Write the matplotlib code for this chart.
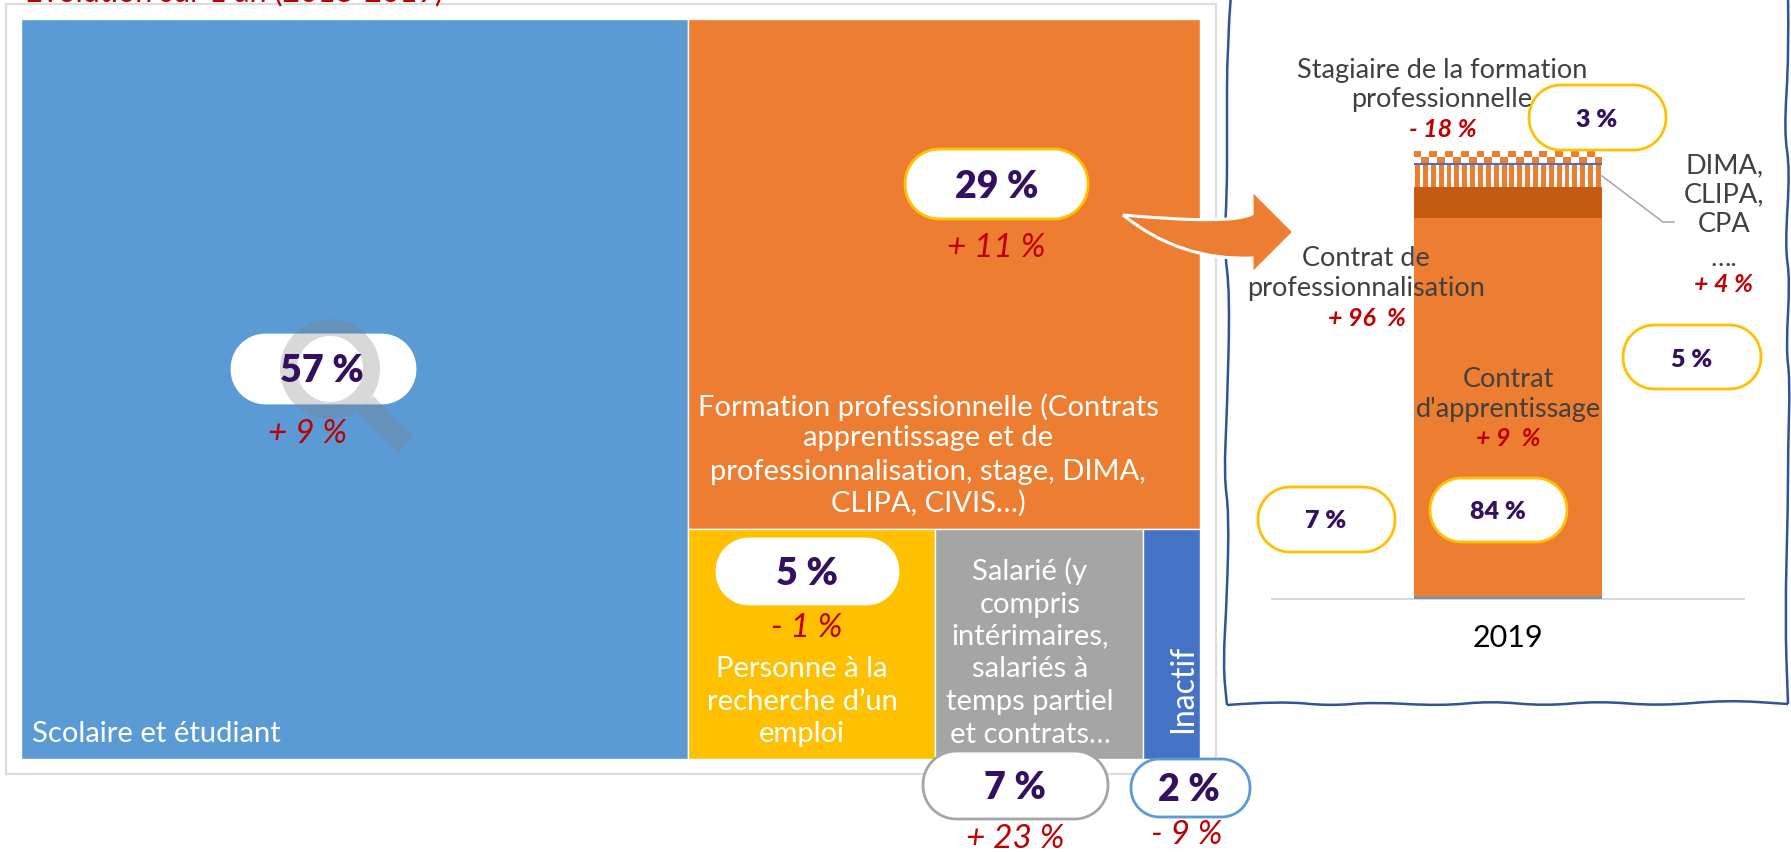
#!/usr/bin/python3

import numpy as np
import matplotlib
matplotlib.use("Agg")
import matplotlib.pyplot as plt
from matplotlib.patches import Rectangle, Polygon, Circle, PathPatch
from matplotlib.path import Path

plt.rcParams['font.family'] = ['Lato', 'DejaVu Sans']

# treemap: share of area read off the picture, not the printed labels
tree_names = ["Scolaire et étudiant", "Formation", "Recherche", "Salarié", "Inactif"]
tree_areas = [56.6, 29.9, 6.5, 5.5, 1.5]
tree_colors = ["#5B9BD5", "#ED7D31", "#FFC000", "#A5A5A5", "#4472C4"]

# stacked bar 2019
bar_year = "2019"
bar_appr = 84
bar_prof = 7
bar_dima = 5
bar_stag = 3

W, H = 1791, 853
ORANGE = "#ED7D31"
PURPLE = "#350F60"
RED = "#C00000"
GOLD = "#FFC000"
DARKTXT = "#404040"


def axes_px(fig, x0, y0, x1, y1, **kw):
    # axes placed with pixel coordinates, y counted from the top
    return fig.add_axes([x0/W, 1-y1/H, (x1-x0)/W, (y1-y0)/H], **kw)


def pill(ax, x0, y0, x1, y1, edge=None, lw=2.0):
    # rounded box with circular corners
    r = (y1-y0)/2*0.98
    t = np.linspace(0, np.pi/2, 16)
    pts = []
    for cx, cy, a in [(x1-r, y1-r, 0), (x0+r, y1-r, np.pi/2), (x0+r, y0+r, np.pi), (x1-r, y0+r, 1.5*np.pi)]:
        pts += list(zip(cx+r*np.cos(t+a), cy+r*np.sin(t+a)))
    ax.add_patch(Polygon(pts, closed=True, fc="white", ec=edge if edge else "white", lw=lw, zorder=5))


def lines(ax, x, ys, txt, **kw):
    # one text per line, the spacing of the picture is easier to hit this way
    for y, t in zip(ys, txt.split("\n")):
        ax.text(x, y, t, ha="center", va="center", zorder=8, **kw)


def wavy(ax, pts):
    pts = np.array(pts, dtype=float)
    verts = [pts[0]]
    codes = [Path.MOVETO]
    for i in range(1, len(pts)-1):
        verts += [pts[i], (pts[i]+pts[i+1])/2]
        codes += [Path.CURVE3, Path.CURVE3]
    verts.append(pts[-1])
    codes.append(Path.LINETO)
    ax.add_patch(PathPatch(Path(verts, codes), fc="none", ec="#2F5597", lw=1.8, zorder=1))


fig = plt.figure(figsize=(W/100, H/100), dpi=100, facecolor="white")

# ---------- treemap
ax_tree = axes_px(fig, 21, 20, 1200, 760, zorder=1)
ax_tree.set_xlim(0, 100)
ax_tree.set_ylim(0, 100)
ax_tree.axis("off")

total = sum(tree_areas)
left_w = tree_areas[0]/total*100
right_sum = sum(tree_areas[1:])
top_h = tree_areas[1]/right_sum*100
ax_tree.bar(0, 100, left_w, align="edge", color=tree_colors[0], ec="white", lw=1)
ax_tree.bar(left_w, top_h, 100-left_w, bottom=100-top_h, align="edge",
            color=tree_colors[1], ec="white", lw=1)
x = left_w
low_sum = sum(tree_areas[2:])
for a, c in zip(tree_areas[2:], tree_colors[2:]):
    w = a/low_sum*(100-left_w)
    ax_tree.bar(x, 100-top_h, w, align="edge", color=c, ec="white", lw=1)
    x += w

# ---------- stacked bar
ax_bar = axes_px(fig, 1272, 147, 1744, 600, zorder=2)
ax_bar.patch.set_alpha(0)
ax_bar.set_xlim(-0.5, 0.5)
ax_bar.set_ylim(0, 100)
bw = 0.4
ax_bar.bar(0, bar_appr, bw, color=ORANGE)
ax_bar.bar(0, bar_prof, bw, bottom=bar_appr, color="#C55A11")

# striped segment and chequered segment
n_cols = 24
cell = bw/n_cols
col_x = -bw/2 + cell*(np.arange(n_cols)+0.5)
ax_bar.bar(col_x, bar_dima, cell*0.62, bottom=bar_appr+bar_prof, color=ORANGE)
stag_base = bar_appr+bar_prof+bar_dima
row = bar_stag/2
ax_bar.bar(col_x[1::2], row, cell, bottom=stag_base, color=ORANGE)
ax_bar.bar(col_x[0::2], row, cell, bottom=stag_base+row, color=ORANGE)
ax_bar.plot([-bw/2, bw/2], [stag_base, stag_base], color="#4472C4", lw=1.5, solid_capstyle="butt", zorder=4)
ax_bar.plot([-bw/2, bw/2], [0.15, 0.15], color="#5B9BD5", lw=1.5, solid_capstyle="butt", zorder=4)

for s in ["top", "left", "right"]:
    ax_bar.spines[s].set_visible(False)
ax_bar.spines["bottom"].set_color("#D9D9D9")
ax_bar.spines["bottom"].set_linewidth(1.5)
ax_bar.set_yticks([])
ax_bar.set_xticks([0], [bar_year])
ax_bar.tick_params(axis="x", length=0, pad=17, labelsize=22, labelcolor="black")

# ---------- everything else, in pixels
ov = axes_px(fig, 0, 0, W, H, zorder=3)
ov.set_xlim(0, W)
ov.set_ylim(H, 0)
ov.axis("off")

ov.add_patch(Rectangle((6, 5), 1210, 770, fc="none", ec="#DDDDDD", lw=1.6, zorder=0))
# the reference itself is cropped through this line
ov.text(25, 1, "Évolution sur 1 an (2018-2019)", color=RED, fontsize=22,
        ha="left", va="baseline", zorder=8)

# hand drawn frame
wavy(ov, [(1231, -5), (1227, 46), (1227, 138), (1227, 193), (1224, 248), (1230, 294), (1227, 413),
          (1224, 477), (1229, 514), (1227, 597), (1223, 666), (1227, 706)])
wavy(ov, [(1227, 706), (1280, 702), (1330, 707), (1373, 703), (1441, 707), (1491, 702), (1545, 707),
          (1598, 702), (1659, 707), (1727, 701), (1788, 705)])
wavy(ov, [(1788, -5), (1789, 55), (1784, 133), (1790, 170), (1785, 248), (1790, 280), (1786, 349),
          (1790, 381), (1788, 450), (1788, 505), (1785, 620), (1788, 705)])

# arrow, white outline only shows on the orange block
arrow_v = [(1123, 216), (1232, 226), (1252, 215), (1252, 191), (1294, 233), (1252, 275),
           (1252, 259), (1180, 262), (1123, 216), (1123, 216)]
arrow_c = [Path.MOVETO, Path.CURVE3, Path.CURVE3, Path.LINETO, Path.LINETO, Path.LINETO,
           Path.LINETO, Path.CURVE3, Path.CURVE3, Path.CLOSEPOLY]
ov.add_patch(PathPatch(Path(arrow_v, arrow_c), fc=ORANGE, ec="white", lw=2.2, joinstyle="miter", zorder=2))

# leader line
ov.plot([1602, 1663, 1674], [177, 223, 223], color="#A6A6A6", lw=1.1, zorder=3)

# pills
pill(ov, 232, 336, 415, 404)
pill(ov, 905, 150, 1088, 220, GOLD)
pill(ov, 717, 540, 898, 605)
pill(ov, 923, 752, 1108, 820, "#A5A5A5")
pill(ov, 1131, 760, 1250, 818, "#5B9BD5")
pill(ov, 1529, 86, 1666, 151, GOLD)
pill(ov, 1623, 326, 1761, 390, GOLD)
pill(ov, 1258, 488, 1395, 553, GOLD)
pill(ov, 1430, 479, 1567, 543, GOLD)

# magnifier
ov.add_patch(Circle((330, 370), 41.5, fc="none", ec="#7F7F7F", alpha=0.3, lw=12.2, zorder=6))
ov.plot([365, 406], [405, 446], color="#7F7F7F", alpha=0.3, lw=16.5, solid_capstyle="butt", zorder=6)

big = dict(color=PURPLE, fontsize=27, fontweight="heavy")
small = dict(color=PURPLE, fontsize=18, fontweight="heavy")
lines(ov, 322, [371], "57 %", **big)
lines(ov, 997, [187], "29 %", **big)
lines(ov, 807, [574], "5 %", **big)
lines(ov, 1015, [788], "7 %", **big)
lines(ov, 1189, [790], "2 %", **big)
lines(ov, 1597, [120], "3 %", **small)
lines(ov, 1692, [360], "5 %", **small)
lines(ov, 1326, [521], "7 %", **small)
lines(ov, 1498, [512], "84 %", **small)

evo = dict(color=RED, fontsize=24, style="italic")
lines(ov, 308, [434], "+ 9 %", **evo)
lines(ov, 996, [248], "+ 11 %", **evo)
lines(ov, 807, [628], "- 1 %", **evo)
lines(ov, 1015, [839], "+ 23 %", **evo)
lines(ov, 1187, [835], "- 9 %", **evo)

evo2 = dict(color=RED, fontsize=18, style="italic", fontweight="bold")
lines(ov, 1443, [129], "- 18 %", **evo2)
lines(ov, 1367, [318], "+ 96  %", **evo2)
lines(ov, 1724, [284], "+ 4 %", **evo2)
lines(ov, 1508, [439], "+ 9  %", **evo2)

white = dict(color="white", fontsize=21)
gray = dict(color=DARKTXT, fontsize=19.5)
ov.text(32, 734, tree_names[0], ha="left", va="center", zorder=8, **white)
lines(ov, 928, [407, 438, 472, 503],
      "Formation professionnelle (Contrats\napprentissage et de\nprofessionnalisation, stage, DIMA,\nCLIPA, CIVIS…)", **white)
lines(ov, 802, [669, 702, 734], "Personne à la\nrecherche d’un\nemploi", **white)
lines(ov, 1030, [571, 605, 636, 669, 702, 735],
      "Salarié (y\ncompris\nintérimaires,\nsalariés à\ntemps partiel\net contrats…", **white)
ov.text(1183, 733, "Inactif", rotation=90, ha="center", va="bottom", zorder=8, color="white", fontsize=23)

lines(ov, 1442, [70, 99], "Stagiaire de la formation\nprofessionnelle", **gray)
lines(ov, 1366, [258, 288], "Contrat de\nprofessionnalisation", **gray)
lines(ov, 1724, [166, 195, 224, 258], "DIMA,\nCLIPA,\nCPA\n….", **gray)
lines(ov, 1508, [379, 409], "Contrat\nd'apprentissage", **gray)

fig.savefig("out.png", dpi=100)
